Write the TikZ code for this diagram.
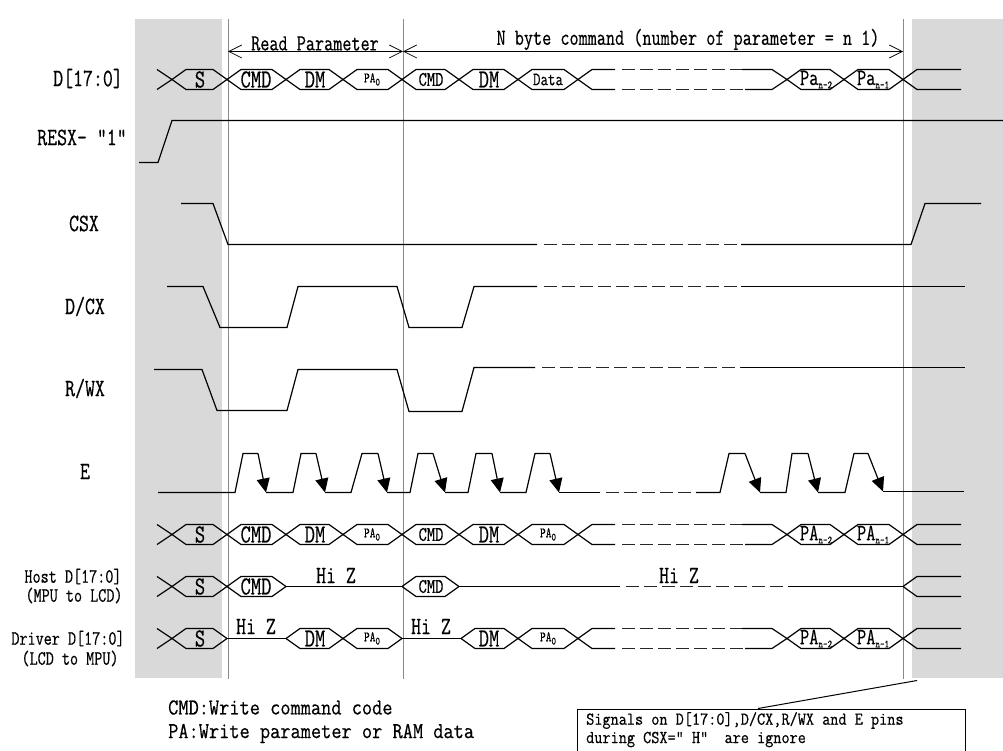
\documentclass[tikz,border=0pt]{standalone}
\usepackage{fontspec}
\setmonofont[FakeBold=0.5]{Latin Modern Mono}
\usetikzlibrary{arrows.meta}
\definecolor{shade}{HTML}{D9D9D9}
\definecolor{guide}{HTML}{8A8A8A}
\tikzset{
  x=1pt,y=-1pt,
  sig/.style={draw=black,line width=1.2pt,line join=miter},
  dashsig/.style={draw=black!85,line width=1.2pt,dash pattern=on 12.5pt off 5.5pt},
  guideline/.style={draw=guide,line width=0.7pt},
  band/.style={fill=shade,draw=none},
  tall/.style={transform shape,yscale=1.3},
  lab/.style={inner sep=0pt,tall,font=\monosz{15.7}},
  siglab/.style={inner sep=0pt,tall,font=\monosz{19.3}},
  cell/.style={inner sep=0pt,tall,font=\monosz{20}},
  smallcell/.style={inner sep=0pt,tall,font=\monosz{11}},
  note/.style={inner sep=0pt,transform shape,yscale=1.15,font=\monosz{19.8},anchor=west},
  boxtext/.style={inner sep=0pt,transform shape,yscale=1.15,font=\monosz{15.8},anchor=west},
  notebox/.style={draw=black,line width=1pt,minimum width=388pt,minimum height=42pt,inner sep=0pt},
  fall/.style={draw=black,line width=1.2pt,-{Triangle[length=14pt,width=13pt]}},
  span/.style={draw=black,line width=0.7pt,{Straight Barb[length=13pt,width=13pt]}-{Straight Barb[length=13pt,width=13pt]}}
}
\newcommand{\monosz}[1]{\fontsize{#1}{#1}\selectfont\ttfamily}
% \hexcell{x0}{x1}{ymid}
\newcommand{\hexcell}[3]{\draw[sig] (#1,#3) -- ++(14,-10) -- (#2-14,#3-10) -- (#2,#3) -- (#2-14,#3+10) -- (#1+14,#3+10) -- cycle;}
% first crossing tail
\newcommand{\tailin}[1]{\draw[sig] (157,#1-10) -- (172,#1) (157,#1+10) -- (172,#1);}
% open bus going off after x0 with dashes
\newcommand{\busgap}[1]{%
  \draw[sig] (578,#1) -- (592,#1-10) -- (615,#1-10) (578,#1) -- (592,#1+10) -- (615,#1+10);
  \draw[dashsig] (622,#1-10) -- (742,#1-10) (622,#1+10) -- (745,#1+10);
  \draw[sig] (742,#1-10) -- (772,#1-10) -- (787,#1) (745,#1+10) -- (772,#1+10) -- (787,#1);
}
\newcommand{\tailout}[1]{\draw[sig] (903,#1) -- (917,#1-10) -- (961,#1-10) (903,#1) -- (917,#1+10) -- (961,#1+10);}
\newcommand{\sbs}[1]{\raisebox{-2.5pt}{\fontsize{8.5}{8.5}\selectfont #1}}
\begin{document}
\begin{tikzpicture}
\useasboundingbox (0,0) rectangle (1003,751);
\fill[white] (0,0) rectangle (1003,751);
\fill[band] (135,19) rectangle (222,678);
\fill[band] (912,19) rectangle (1003,678);
\draw[guideline] (228.5,19) -- (228.5,679);
\draw[guideline] (403.5,19) -- (403.5,679);
\draw[guideline] (903.5,19) -- (903.5,679);

\begin{scope}[yshift=-0.5pt]
% spans
\coordinate (sa) at (228,51);
\coordinate (sb) at (403,51);
\coordinate (sc) at (903,51);
\draw[span] (sa) -- (sb);
\draw[span] (sb) -- (sc);
\node[inner sep=0pt,tall,font=\monosz{17.7}] (readp) at (315,43) {Read Parameter};
\node[inner sep=0pt,tall,font=\monosz{17.7}] (nbyte) at (688,39) {N byte command (number of parameter = n 1)};

% left labels
\node[siglab] (ld) at (88,78) {D[17:0]};
\node[siglab] (lr) at (82,137) {RESX- "1"};
\node[siglab] (lc) at (84,223) {CSX};
\node[siglab] (ldc) at (85,306) {D/CX};
\node[siglab] (lrw) at (85,388) {R/WX};
\node[siglab] (le) at (85,471) {E};
\node[lab] (lh1) at (73,576) {Host D[17:0]};
\node[lab] (lh2) at (74,595) {(MPU to LCD)};
\node[lab] (ld1) at (68,638) {Driver D[17:0]};
\node[lab] (ld2) at (70,658) {(LCD to MPU)};

% Row 1: D[17:0]
\tailin{79}
\hexcell{172}{227}{79}\node[cell] (r1s) at (200,79) {S};
\hexcell{227}{286}{79}\node[cell] (r1c) at (256,79) {CMD};
\hexcell{286}{343}{79}\node[cell] (r1d) at (315,79) {DM};
\hexcell{343}{402}{79}\node[smallcell] (r1p) at (372,79) {PA\sbs{0}};
\hexcell{402}{459}{79}\node[cell,font=\monosz{16}] (r1c2) at (431,79) {CMD};
\hexcell{459}{518}{79}\node[cell] (r1d2) at (489,79) {DM};
\hexcell{518}{578}{79}\node[cell,font=\monosz{14.5}] (r1da) at (548,79) {Data};
\busgap{79}
\hexcell{787}{844}{79}\node[cell,font=\monosz{18}] (r1pa) at (816,79) {Pa\sbs{n-2}};
\hexcell{844}{903}{79}\node[cell,font=\monosz{18}] (r1pb) at (873,79) {Pa\sbs{n-1}};
\tailout{79}

% RESX
\draw[sig] (139,162) -- (158,162) -- (172,120) -- (1003,120);

% CSX
\draw[sig] (181,203) -- (213,203) -- (228,244) -- (537,244);
\draw[dashsig] (544,244) -- (741,244);
\draw[sig] (741,244) -- (911,244) -- (925,203) -- (981,203);

% D/CX
\draw[sig] (167,286) -- (203,286) -- (220,327) -- (287,327) -- (298,286) -- (397,286) -- (409,327) -- (462,327) -- (474,286) -- (537,286);
\draw[dashsig] (544,286) -- (741,286);
\draw[sig] (741,286) -- (965,286);

% R/WX
\draw[sig] (154,369) -- (202,369) -- (217,410) -- (287,410) -- (298,369) -- (397,369) -- (409,411) -- (462,411) -- (474,367) -- (535,367);
\draw[dashsig] (542,367) -- (741,367);
\draw[sig] (741,367) -- (965,367);

% E
\draw[sig] (158,492) -- (235,492) -- (243,453) -- (258,453);
\draw[fall] (258,453) -- (266,492);
\draw[sig] (266,492) -- (293,492) -- (301,453) -- (316,453);
\draw[fall] (316,453) -- (325,492);
\draw[sig] (325,492) -- (351,492) -- (362,453) -- (378,453);
\draw[fall] (378,453) -- (387,492);
\draw[sig] (387,492) -- (410,492) -- (418,453) -- (433,453);
\draw[fall] (433,453) -- (445,492);
\draw[sig] (445,492) -- (468,492) -- (476,453) -- (492,453);
\draw[fall] (492,453) -- (500,492);
\draw[sig] (500,492) -- (526,492) -- (535,453) -- (550,453);
\draw[fall] (550,453) -- (559,492);
\draw[sig] (559,492) -- (600,492);
\draw[dashsig] (606,492) -- (696,492);
\draw[sig] (696,492) -- (720,492) -- (729,453) -- (745,453);
\draw[fall] (745,453) -- (760,492);
\draw[sig] (760,492) -- (786,492) -- (792,453) -- (808,453);
\draw[fall] (808,453) -- (818,492);
\draw[sig] (818,492) -- (845,492) -- (854,453) -- (868,453);
\draw[fall] (868,453) -- (883,491);
\draw[sig] (883,491) -- (964,491);

% Row 2
\tailin{534}
\hexcell{172}{227}{534}\node[cell] (r2s) at (200,534) {S};
\hexcell{227}{286}{534}\node[cell] (r2c) at (256,534) {CMD};
\hexcell{286}{343}{534}\node[cell] (r2d) at (315,534) {DM};
\hexcell{343}{402}{534}\node[smallcell] (r2p) at (372,534) {PA\sbs{0}};
\hexcell{402}{459}{534}\node[cell,font=\monosz{16}] (r2c2) at (431,534) {CMD};
\hexcell{459}{518}{534}\node[cell] (r2d2) at (489,534) {DM};
\hexcell{518}{578}{534}\node[smallcell] (r2p2) at (548,534) {PA\sbs{0}};
\busgap{534}
\hexcell{787}{844}{534}\node[cell,font=\monosz{18}] (r2pa) at (816,534) {PA\sbs{n-2}};
\hexcell{844}{903}{534}\node[cell,font=\monosz{18}] (r2pb) at (873,534) {PA\sbs{n-1}};
\tailout{534}

% Host
\tailin{586}
\hexcell{172}{227}{586}\node[cell] (r3s) at (200,586) {S};
\hexcell{227}{286}{586}\node[cell] (r3c) at (256,586) {CMD};
\draw[sig] (286,586) -- (402,586);
\node[siglab] (hz1) at (336,575) {Hi Z};
\hexcell{402}{459}{586}\node[cell,font=\monosz{16}] (r3c2) at (431,586) {CMD};
\draw[sig] (459,586) -- (620,586);
\draw[dashsig] (626,586) -- (788,586);
\draw[sig] (788,586) -- (903,586);
\node[siglab] (hz2) at (679,575) {Hi Z};
\tailout{586}

% Driver
\tailin{638}
\hexcell{172}{227}{638}\node[cell] (r4s) at (200,638) {S};
\draw[sig] (227,638) -- (286,638);
\node[siglab] (hz3) at (256,626) {Hi Z};
\hexcell{286}{343}{638}\node[cell] (r4d) at (315,638) {DM};
\hexcell{343}{402}{638}\node[smallcell] (r4p) at (372,638) {PA\sbs{0}};
\draw[sig] (402,638) -- (461,638);
\node[siglab] (hz4) at (431,626) {Hi Z};
\hexcell{461}{518}{638}\node[cell] (r4d2) at (489,638) {DM};
\hexcell{518}{578}{638}\node[smallcell] (r4p2) at (548,638) {PA\sbs{0}};
\busgap{638}
\hexcell{787}{844}{638}\node[cell,font=\monosz{18}] (r4pa) at (816,638) {PA\sbs{n-2}};
\hexcell{844}{903}{638}\node[cell,font=\monosz{18}] (r4pb) at (873,638) {PA\sbs{n-1}};
\tailout{638}

% Notes
\node[note] (n1) at (168,707) {CMD:Write command code};
\node[note] (n2) at (168,733) {PA:Write parameter or RAM data};
\node[notebox,anchor=north west] (box) at (577,708) {};
\node[boxtext] (b1) at (586,720) {Signals on D[17:0],D/CX,R/WX and E pins};
\node[boxtext] (b2) at (586,739) {during CSX=" H"\ \ are ignore};
\coordinate (lead) at (917,680);
\coordinate (leadend) at (758,708);
\draw[draw=black,line width=1pt] (lead) -- (leadend);
\end{scope}
\end{tikzpicture}
\end{document}
